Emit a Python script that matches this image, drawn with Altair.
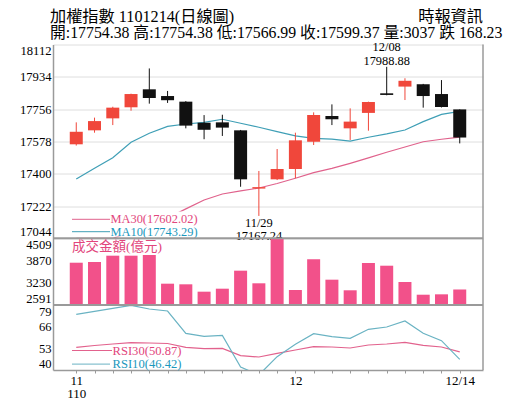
import altair as alt
import pandas as pd

SERIF = "Liberation Serif, Times New Roman, Noto Sans CJK TC, serif"
CJK = "Liberation Serif, Noto Sans CJK TC, sans-serif"

# ---------------- data ----------------
idx = list(range(22))
dates = ["11/15", "11/16", "11/17", "11/18", "11/19", "11/22", "11/23", "11/24", "11/25", "11/26",
         "11/29", "11/30", "12/01", "12/02", "12/03", "12/06", "12/07", "12/08", "12/09", "12/10",
         "12/13", "12/14"]
opens = [17562, 17639, 17705, 17766, 17865, 17828, 17797, 17681, 17683, 17639,
         17318, 17369, 17426, 17576, 17718, 17650, 17735, 17843, 17880, 17893,
         17839, 17754.38]
highs = [17683, 17709, 17769, 17841, 17980, 17856, 17800, 17723, 17725, 17641,
         17415, 17536, 17626, 17738, 17782, 17760, 17797, 17988.88, 17926, 17895,
         17916, 17754.38]
lows = [17555, 17626, 17668, 17747, 17786, 17790, 17650, 17590, 17608, 17328,
        17167.24, 17365, 17375, 17558, 17668, 17586, 17637, 17832, 17806, 17764,
        17765, 17566.99]
closes = [17631, 17690, 17764, 17839, 17817, 17805, 17665, 17642, 17654, 17369,
          17326, 17426, 17584, 17723, 17700, 17687, 17795, 17834, 17912, 17828,
          17767.60, 17599.37]
ma10 = [17371, 17430, 17488, 17573, 17623, 17661, 17674, 17683, 17700, 17678,
        17656, 17632, 17608, 17595, 17591, 17580, 17601, 17619, 17641, 17687,
        17727, 17743.29]
ma30 = [16990, 17010, 17035, 17079, 17117, 17156, 17206, 17255, 17288, 17305,
        17321, 17346, 17375, 17406, 17429, 17457, 17487, 17518, 17547, 17576,
        17590, 17602.02]
volume = [3807, 3828, 4009, 4009, 4029, 3204, 3186, 2974, 3060, 3578,
          3215, 4489, 3022, 3905, 3319, 3014, 3799, 3721, 3252, 2887,
          2898, 3037]
rsi10 = [73.4, 75.2, 77.0, 78.8, 76.6, 75.4, 62.0, 60.2, 60.8, 41.8,
         37.0, 48.0, 55.4, 61.8, 60.0, 59.0, 64.4, 65.8, 69.4, 62.0,
         57.6, 46.42]
rsi30 = [53.6, 54.7, 55.6, 56.4, 56.2, 55.9, 53.6, 52.8, 53.0, 48.6,
         47.8, 50.0, 52.0, 54.0, 53.8, 53.2, 55.0, 55.6, 56.6, 54.8,
         53.8, 50.87]

price_ticks = [17044, 17222, 17400, 17578, 17756, 17934, 18112]
vol_ticks = [2591, 3230.33, 3869.67, 4509]
rsi_ticks = [40, 53, 66, 79]

title1 = "加權指數 1101214(日線圖)"
title2 = "開:17754.38 高:17754.38 低:17566.99 收:17599.37 量:3037 跌 168.23"
source = "時報資訊"
vol_title = "成交金額(億元)"
ma30_label = "MA30(17602.02)"
ma10_label = "MA10(17743.29)"
rsi30_label = "RSI30(50.87)"
rsi10_label = "RSI10(46.42)"

df = pd.DataFrame(dict(i=idx, date=dates, open=opens, high=highs, low=lows, close=closes,
                       ma10=ma10, ma30=ma30, vol=volume, rsi10=rsi10, rsi30=rsi30))

# ---------------- styling ----------------
RED = "#f0473b"
BLK = "#111111"
MA10C = "#3f9fb6"
MA30C = "#e0628c"
VOLC = "#f2518a"
RSI10C = "#6ab3c3"
RSI30C = "#e2628d"
TXT_PINK = "#e2467c"
TXT_TEAL = "#1b98bd"
BORDER = "#9a9a9a"

W, H = 430, 325.5
PH = 193.8   # bottom of price panel
VB = 260.5   # bottom of volume panel

xs = alt.Scale(domain=[-1, 22], nice=False, zero=False)
x_axis = alt.Axis(values=idx, title=None, grid=False, labelAngle=0, labelOverlap=False,
                  labelFlush=False, labelFont=SERIF, labelFontSize=13, labelColor="black",
                  labelLineHeight=13, labelPadding=1, tickSize=3, tickColor=BORDER,
                  domainColor=BORDER, domainWidth=1.5,
                  labelExpr="datum.value == 0 ? ['11', '110'] : datum.value == 12 ? '12' : datum.value == 21 ? '12/14' : ''")
X = alt.X("i:Q", scale=xs, axis=x_axis, title=None)

def yaxis(vals, grid, fmt):
    return alt.Axis(values=vals, orient="left", title=None, grid=grid, gridColor="#dedede",
                    gridWidth=1, ticks=False, labelPadding=2, labelFlush=True,
                    labelFont=SERIF, labelFontSize=12.6, labelColor="black", format=fmt,
                    domain=True, domainColor=BORDER, domainWidth=1.5)

ys_price = alt.Scale(domain=[17044, 18112], range=[PH, 0], nice=False, zero=False, clamp=True)
ys_vol = alt.Scale(domain=[2591, 4509], range=[VB, PH], nice=False, zero=False)
ys_rsi = alt.Scale(domain=[40, 79], range=[H, VB], nice=False, zero=False)
ax_price = yaxis(price_ticks, True, "d")
ax_vol = yaxis(vol_ticks, False, ".0f")
ax_rsi = yaxis(rsi_ticks, False, "d")

def YP(f):
    return alt.Y(f, type="quantitative", scale=ys_price, axis=ax_price, title=None)

base = alt.Chart(df)
updown = alt.condition("datum.close >= datum.open", alt.value(RED), alt.value(BLK))

ma30_line = base.mark_line(color=MA30C, strokeWidth=1.2).encode(x=X, y=YP("ma30"))
ma10_line = base.mark_line(color=MA10C, strokeWidth=1.2).encode(x=X, y=YP("ma10"))
wick = base.mark_rule(strokeWidth=1).encode(x=X, y=YP("low"), y2="high:Q", color=updown)
body = base.mark_bar(size=13).encode(x=X, y=YP("open"), y2="close:Q", color=updown)

lowpt = base.transform_filter("datum.i == 10")
highpt = base.transform_filter("datum.i == 17")
txt = dict(font=SERIF, fontSize=12.4, color="black", baseline="middle", align="center")
ann1 = lowpt.mark_text(dy=7.3, **txt).encode(x=X, y=YP("low"), text="date:N")
ann2 = lowpt.mark_text(dy=19.7, **txt).encode(x=X, y=YP("low"), text=alt.Text("low:Q", format=".2f"))
ann3 = highpt.mark_text(dy=-20, **txt).encode(x=X, y=YP("high"), text="date:N")
ann4 = highpt.mark_text(dy=-6, **txt).encode(x=X, y=YP("high"), text=alt.Text("high:Q", format=".2f"))

price = alt.layer(ma30_line, ma10_line, wick, body, ann1, ann2, ann3, ann4)

vol = base.mark_bar(size=13, color=VOLC).encode(
    x=X, y=alt.Y("vol:Q", scale=ys_vol, axis=ax_vol, title=None), y2=alt.datum(2591))

def YR(f):
    return alt.Y(f, type="quantitative", scale=ys_rsi, axis=ax_rsi, title=None)

rsi = alt.layer(
    base.mark_line(color=RSI30C, strokeWidth=1.2, clip=True).encode(x=X, y=YR("rsi30")),
    base.mark_line(color=RSI10C, strokeWidth=1.2, clip=True).encode(x=X, y=YR("rsi10")),
)

one = pd.DataFrame({"t": [0]})

def label(text, x, y, size, color, font=SERIF, align="left"):
    return alt.Chart(one).mark_text(text=text, font=font, fontSize=size, color=color,
                                    align=align, baseline="middle").encode(
        x=alt.value(x), y=alt.value(y))

def seg(x1, x2, y, color, width=1.0):
    return alt.Chart(one).mark_rule(color=color, strokeWidth=width).encode(
        x=alt.value(x1), x2=alt.value(x2), y=alt.value(y))

deco = alt.layer(
    alt.Chart(one).mark_rect(color="white").encode(
        x=alt.value(57), x2=alt.value(150), y=alt.value(167), y2=alt.value(192)),
    seg(19, 57, 174.8, MA30C), seg(19, 57, 187.2, MA10C),
    label(ma30_label, 57.5, 174.8, 12.4, TXT_PINK),
    label(ma10_label, 57.5, 187.2, 12.4, TXT_TEAL),
    label(vol_title, 19, 202.5, 13.5, TXT_PINK, font=CJK),
    seg(19, 59, 306.0, RSI30C), seg(19, 57, 319.6, RSI10C),
    label(rsi30_label, 59.5, 306.0, 12.6, TXT_PINK),
    label(rsi10_label, 59.5, 319.6, 12.6, TXT_TEAL),
    seg(0, W, PH, BORDER, 2), seg(0, W, VB, BORDER, 2),
    alt.Chart(one).mark_rule(color=BORDER, strokeWidth=1.5).encode(
        x=alt.value(W), y=alt.value(0), y2=alt.value(H)),
    label(title1, -3, -27.3, 16.2, "black", font=CJK),
    label(title2, -3, -11.3, 15.8, "black", font=CJK),
    label(source, W, -27.3, 16.2, "black", font=CJK, align="right"),
)

chart = alt.layer(price, vol, rsi, deco).resolve_scale(y="independent").properties(
    width=W, height=H,
    autosize=alt.AutoSizeParams(type="none"),
    padding={"left": 45, "top": 36.5, "right": 24, "bottom": 30},
).configure_view(stroke=None)

chart.save("out.html", embed_options={"renderer": "svg", "actions": False})
